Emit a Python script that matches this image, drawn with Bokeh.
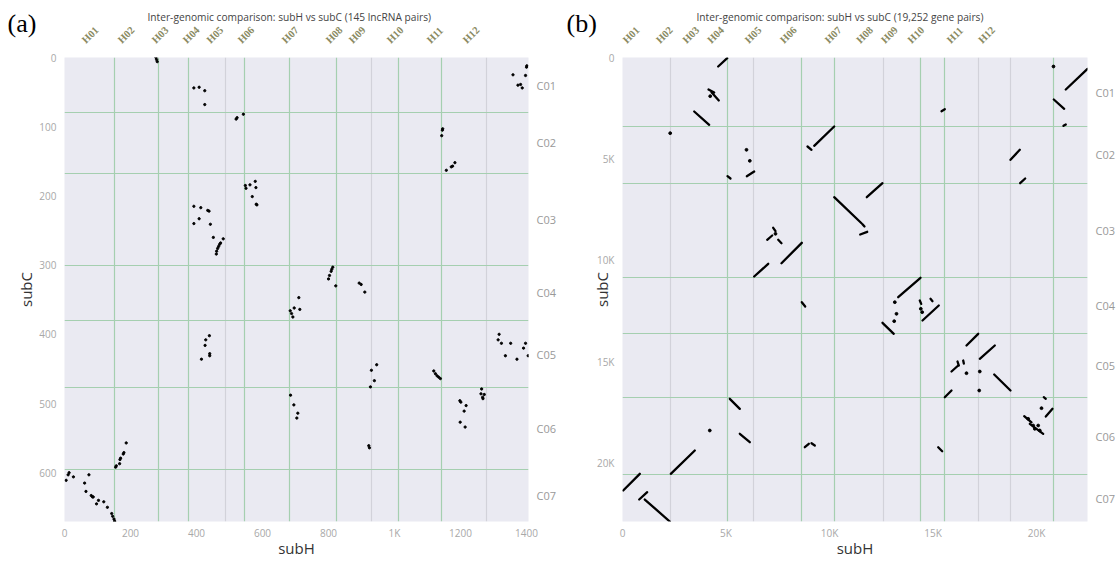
import math
from bokeh.plotting import figure
from bokeh.layouts import row
from bokeh.models import Range1d, LinearAxis, FixedTicker, Title
from bokeh.embed import file_html
from bokeh.resources import INLINE

# ---------------- panel (a): lncRNA pairs ----------------
a_title = "Inter-genomic comparison: subH vs subC (145 lncRNA pairs)"
a_h_labels = ["H01", "H02", "H03", "H04", "H05", "H06", "H07", "H08", "H09", "H10", "H11", "H12"]
a_h_label_pos = [58, 167, 270, 364, 436, 530, 664, 797, 867, 982, 1103, 1212]
a_h_bounds = [152, 286, 375, 488, 546, 681, 824, 929, 1013, 1141, 1278]
a_h_bound_gray = [False, False, False, True, False, False, False, True, False, False, True]
a_c_labels = ["C01", "C02", "C03", "C04", "C05", "C06", "C07"]
a_c_bounds = [80, 167, 301, 380, 477, 596]
a_c_label_pos = [40, 123, 234, 340, 429, 536, 633]
a_xmax = 1406
a_ymax = 670.5
a_x_ticks = [0, 200, 400, 600, 800, 1000, 1200, 1400]
a_x_tick_labels = ["0", "200", "400", "600", "800", "1K", "1200", "1400"]
a_y_ticks = [0, 100, 200, 300, 400, 500, 600]
a_y_tick_labels = ["0", "100", "200", "300", "400", "500", "600"]

a_x = [277, 279, 281,
       392, 408, 425, 425,
       520, 523, 542,
       548, 550, 562, 578, 580, 569, 581, 583,
       392, 413, 434, 438, 392, 408, 442, 451, 481, 473, 470, 467, 464, 461, 460,
       684, 688, 692, 696, 710, 713,
       439, 428, 426, 440, 440, 415,
       1401, 1400, 1359, 1397, 1374, 1382, 1387,
       1146, 1145, 1143, 1157, 1172, 1176, 1183,
       813, 810, 808, 803, 800, 822, 893, 899, 910,
       1317, 1314, 1324, 1352, 1397, 1391, 1336, 1371, 1405,
       930, 946, 939, 927,
       1119, 1124, 1129, 1134, 1139,
       685, 695, 707, 704,
       922, 924,
       1198, 1201, 1217, 1211, 1199, 1214,
       1264, 1262, 1272, 1267, 1268,
       187, 180, 178, 170, 168, 167, 157, 155,
       5, 11, 14, 27, 74, 61, 65, 81, 85, 87, 97, 103, 119, 130, 143, 146, 150, 152]
a_y = [0, 3, 6,
       44, 43, 48, 68,
       89, 87, 82,
       185, 189, 184, 179, 188, 201, 212, 213,
       215, 217, 221, 222, 240, 233, 241, 260, 262, 268, 270, 273, 276, 280, 284,
       366, 370, 375, 362, 347, 364,
       402, 408, 416, 428, 431, 436,
       12, 14, 25, 26, 40, 39, 44,
       103, 105, 113, 163, 158, 157, 152,
       303, 306, 309, 315, 320, 330, 326, 328, 339,
       400, 408, 413, 413, 413, 420, 431, 436, 431,
       452, 444, 467, 476,
       453, 457, 460, 462, 464,
       488, 502, 514, 521,
       561, 564,
       496, 498, 503, 511, 527, 534,
       479, 486, 487, 491, 493,
       557, 571, 573, 579, 581, 587, 590, 592,
       611, 603, 600, 606, 603, 615, 627, 633, 635, 635, 645, 640, 642, 650, 659, 663, 667, 670]

# ---------------- panel (b): gene pairs ----------------
b_title = "Inter-genomic comparison: subH vs subC (19,252 gene pairs)"
b_h_labels = a_h_labels
b_h_label_pos = [100, 1700, 2980, 4180, 5990, 7700, 9860, 11380, 12580, 13860, 15750, 17270]
b_h_bounds = [2319, 5087, 6343, 8662, 10256, 12594, 14411, 15541, 17184, 18758, 20807]
b_h_bound_gray = [True, False, True, False, False, True, False, False, True, True, False]
b_c_labels = a_c_labels
b_c_bounds = [3404, 6201, 10868, 13631, 16759, 20587]
b_c_label_pos = [1702, 4803, 8535, 12250, 15195, 18673, 21740]
b_xmax = 22464
b_ymax = 22890
b_x_ticks = [0, 5000, 10000, 15000, 20000]
b_x_tick_labels = ["0", "5K", "10K", "15K", "20K"]
b_y_ticks = [0, 5000, 10000, 15000, 20000]
b_y_tick_labels = ["0", "5K", "10K", "15K", "20K"]

# synteny blocks (start/end of each run of collinear gene pairs)
b_seg_x0 = [4623, 4155, 4300, 3464, 9261, 8937, 6005, 5072, 10227, 11594, 11483, 11802, 7280, 6990, 7522, 7681,
            6362, 8662, 22464, 20836, 21304, 15411, 18744, 19210, 13319, 12560, 14493, 14879, 14362, 16618,
            17261, 15894, 17957, 15570, 15251, 20353, 20449, 19406, 19676, 5184, 5667, 8808, 9130, 2333, 34,
            807, 1077, 16184, 16459]
b_seg_y0 = [444, 1579, 1712, 2664, 4356, 4391, 5856, 5856, 6892, 8224, 8732, 6892, 8402, 8994, 8994, 10148,
            10804, 12072, 560, 2072, 3370, 2649, 5048, 6201, 11825, 13089, 12975, 11904, 11988, 14208,
            14864, 15491, 15639, 16759, 19226, 16759, 17711, 17696, 18071, 16838, 18565, 19226, 19028, 20538, 21362,
            21806, 21806, 14997, 14948]
b_seg_x1 = [5058, 4430, 4652, 4188, 10227, 9130, 6362, 5217, 11546, 11691, 11821, 12560, 7391, 7232, 7681, 8662,
            7039, 8826, 21415, 21338, 21415, 15570, 19193, 19454, 14396, 13106, 15280, 14976, 14430, 17184,
            17986, 16217, 18744, 15894, 15444, 20449, 20773, 19758, 20324, 5667, 6150, 9000, 9290, 3493, 836,
            1193, 2285, 16248, 16490]
b_seg_y1 = [35, 1727, 2121, 3320, 3404, 4554, 5624, 5969, 8175, 8337, 8599, 6201, 8568, 8781, 9161, 9142,
            10178, 12284, 1579, 2531, 3305, 2550, 4554, 5969, 10868, 13631, 12235, 12023, 12153, 13631,
            14208, 15195, 16428, 16428, 19423, 16838, 17331, 18000, 18564, 17331, 18978, 19058, 19141, 19388, 20538,
            21445, 22891, 15195, 15100]
# isolated gene pairs
b_dot_x = [2304, 5990, 6150, 4237, 7391, 20821, 13155, 13237, 13126, 14411, 14478, 16618, 17261, 17232, 20242,
           4217, 19599, 19840, 20082, 20159, 19918]
b_dot_y = [3734, 4554, 5098, 1909, 8698, 444, 12072, 12645, 13009, 12398, 12565, 15575, 15491, 16428, 17301,
           18401, 17824, 18155, 18155, 18400, 18318]

BG = "#EAEAF2"
GREEN = "#a5cfb0"
GRAY = "#d2d2da"
TICK_COLOR = "#a8a8a8"


def make_panel(frame_w, border_left, border_right, tag, title, title_offset, xmax, ymax, x_ticks, x_tick_labels,
               y_ticks, y_tick_labels, h_bounds, h_gray, c_bounds, h_labels, h_pos, c_labels, c_pos,
               ylab_standoff):
    p = figure(frame_width=frame_w, frame_height=464, output_backend="svg", toolbar_location=None,
               x_range=Range1d(0, xmax), y_range=Range1d(ymax, 0),
               min_border_left=border_left, min_border_right=border_right, min_border_top=57,
               min_border_bottom=40,
               background_fill_color=BG, border_fill_color="white", outline_line_color=None)
    p.grid.visible = False

    # chromosome boundaries
    hg = [b for b, g in zip(h_bounds, h_gray) if g]
    hc = [b for b, g in zip(h_bounds, h_gray) if not g]
    p.vspan(x=hg, line_color=GRAY, line_width=1.2)
    p.vspan(x=hc, line_color=GREEN, line_width=1.2)
    p.hspan(y=c_bounds, line_color=GREEN, line_width=1.2)

    xa = p.xaxis[0]
    xa.ticker = FixedTicker(ticks=x_ticks)
    xa.major_label_overrides = dict(zip(x_ticks, x_tick_labels))
    xa.axis_label = "subH"
    ya = p.yaxis[0]
    ya.ticker = FixedTicker(ticks=y_ticks)
    ya.major_label_overrides = dict(zip(y_ticks, y_tick_labels))
    ya.axis_label = "subC"
    for ax in (xa, ya):
        ax.axis_line_color = None
        ax.major_tick_line_color = None
        ax.minor_tick_line_color = None
        ax.major_tick_out = 0
        ax.major_tick_in = 0
        ax.minor_tick_out = 0
        ax.major_label_text_font = "Open Sans"
        ax.major_label_text_font_size = "10px"
        ax.major_label_text_color = TICK_COLOR
        ax.axis_label_text_font = "Open Sans"
        ax.axis_label_text_font_size = "15px"
        ax.axis_label_text_font_style = "normal"
        ax.axis_label_text_color = "#333333"
    xa.major_label_standoff = 4
    xa.axis_label_standoff = -5
    ya.major_label_standoff = 8
    ya.axis_label_standoff = ylab_standoff

    top = LinearAxis(ticker=FixedTicker(ticks=h_pos), major_label_overrides=dict(zip(h_pos, h_labels)),
                     axis_line_color=None, major_tick_line_color=None, minor_tick_line_color=None,
                     major_tick_out=0, major_tick_in=0, minor_tick_out=0,
                     major_label_orientation=math.pi / 4, major_label_standoff=16,
                     major_label_text_font="Liberation Serif", major_label_text_font_size="10.5px",
                     major_label_text_font_style="bold", major_label_text_color="#8a8a62")
    p.add_layout(top, "above")
    p.add_layout(Title(text=title, align="left", offset=title_offset, standoff=-12,
                       text_font="Open Sans", text_font_size="10.2px", text_font_style="normal",
                       text_color="#444444"), "above")
    right = LinearAxis(ticker=FixedTicker(ticks=c_pos),
                       major_label_overrides=dict(zip(c_pos, c_labels)),
                       axis_line_color=None, major_tick_line_color=None, minor_tick_line_color=None,
                       major_tick_out=0, major_tick_in=0, minor_tick_out=0,
                       major_label_standoff=8, major_label_text_font="Open Sans",
                       major_label_text_font_size="11px", major_label_text_color="#999999")
    p.add_layout(right, "right")

    # panel tag "(a)" / "(b)" as the figure's own title, pulled down beside the chart title
    p.title.text = tag
    p.title.align = "left"
    p.title.offset = -(border_left - 7)
    p.title.standoff = -49
    p.title.text_font = "Liberation Serif"
    p.title.text_font_size = "26px"
    p.title.text_font_style = "normal"
    p.title.text_color = "black"
    return p


pa = make_panel(464, 64, 30, "(a)", a_title, 83, a_xmax, a_ymax, a_x_ticks, a_x_tick_labels, a_y_ticks,
                a_y_tick_labels, a_h_bounds, a_h_bound_gray, a_c_bounds, a_h_labels, a_h_label_pos, a_c_labels,
                a_c_label_pos, 0)
pa.scatter(a_x, a_y, size=2.3, color="black")

pb = make_panel(465, 63, 32, "(b)", b_title, 74, b_xmax, b_ymax, b_x_ticks, b_x_tick_labels, b_y_ticks,
                b_y_tick_labels, b_h_bounds, b_h_bound_gray, b_c_bounds, b_h_labels, b_h_label_pos, b_c_labels,
                b_c_label_pos, -18)
pb.segment(b_seg_x0, b_seg_y0, b_seg_x1, b_seg_y1, line_color="black", line_width=2.3, line_cap="round")
pb.scatter(b_dot_x, b_dot_y, size=2.8, color="black")

layout = row(pa, pb)
open("out.html", "w").write(file_html(layout, INLINE))
